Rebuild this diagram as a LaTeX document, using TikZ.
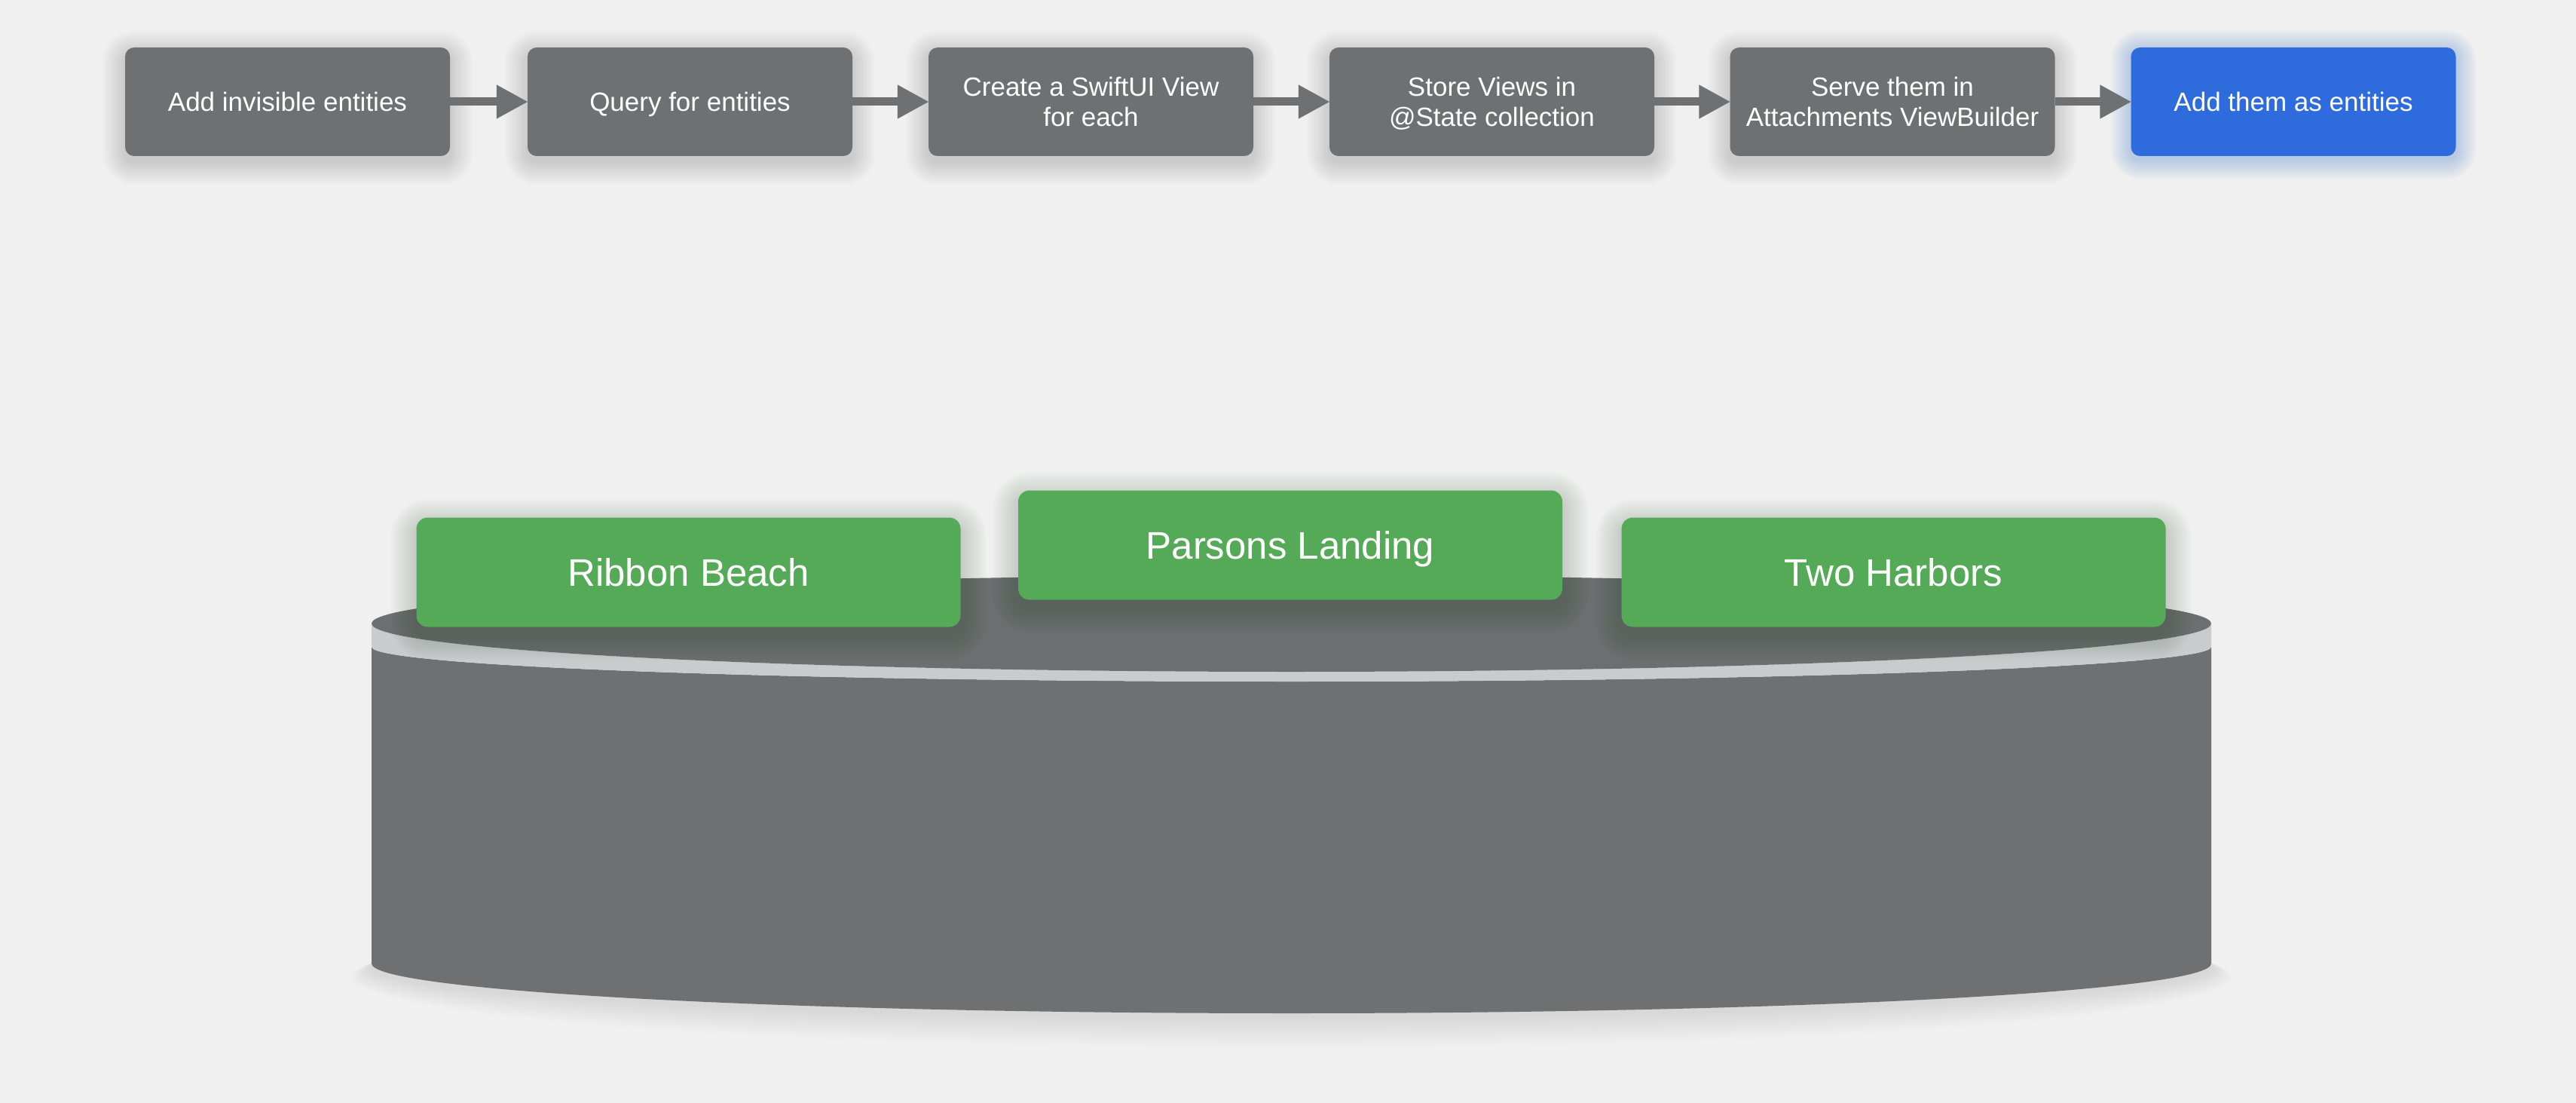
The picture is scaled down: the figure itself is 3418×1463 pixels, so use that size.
\documentclass[tikz,border=0pt]{standalone}
\usepackage{fontspec}
\setmainfont{Liberation Sans}
\usetikzlibrary{arrows.meta}
\definecolor{bgc}{HTML}{EFF0EF}
\definecolor{boxgray}{HTML}{6E7072}
\definecolor{topgray}{HTML}{6C6E70}
\definecolor{bluebox}{HTML}{2E6BDD}
\definecolor{greenbox}{HTML}{55AA58}
\definecolor{bandgray}{HTML}{C9CBCC}
\pgfdeclarelayer{bgl}
\pgfdeclarelayer{back}
\pgfdeclarelayer{shade}
\pgfsetlayers{bgl,back,shade,main}
% #1 node, #2 colour, #3 step, #4 y offset, #5 opacity, #6 corner radius
\newcommand\mysoftshadow[6]{%
  \begin{pgfonlayer}{shade}
  \foreach \k in {1,...,12}{%
    \fill[#2, opacity=#5, rounded corners=#6+\k*#3]
      ([shift={(-\k*#3,-\k*#3+#4)}]#1.north west) rectangle
      ([shift={(\k*#3,\k*#3+#4)}]#1.south east);
  }%
  \end{pgfonlayer}}
\tikzset{
  flowbox/.style={fill=boxgray, rounded corners=12pt, minimum width=431pt,
    minimum height=144pt, inner sep=0pt, text=white, align=center,
    font=\fontsize{35}{40}\selectfont, text depth=0pt},
  oneline/.style={text height=25pt, text depth=0pt},
  bluestep/.style={flowbox, fill=bluebox},
  placebox/.style={fill=greenbox, rounded corners=15pt, minimum width=722pt,
    minimum height=145pt, inner sep=0pt, text=white,
    font=\fontsize{51}{60}\selectfont, text height=37pt, text depth=0pt},
  flowarrow/.style={draw=boxgray, line width=11pt,
    -{Triangle[length=42pt,width=42pt]}, shorten >=-1pt}
}
\begin{document}
\begin{tikzpicture}[x=1pt,y=-1pt]
\begin{pgfonlayer}{bgl}
\fill[bgc] (0,0) rectangle (3418,1463);
\end{pgfonlayer}
\useasboundingbox (0,0) rectangle (3418,1463);

% flow boxes
\node[flowbox,oneline] (b1) at (381.5,135) {Add invisible entities};
\node[flowbox,oneline] (b2) at (915.5,135) {Query for entities};
\node[flowbox] (b3) at (1447.5,135) {Create a SwiftUI View\\for each};
\node[flowbox] (b4) at (1979.5,135) {Store Views in\\@State collection};
\node[flowbox] (b5) at (2511,135) {Serve them in\\Attachments ViewBuilder};
\node[bluestep,oneline] (b6) at (3043,135) {Add them as entities};

\draw[flowarrow] (b1) -- (b2);
\draw[flowarrow] (b2) -- (b3);
\draw[flowarrow] (b3) -- (b4);
\draw[flowarrow] (b4) -- (b5);
\draw[flowarrow] (b5) -- (b6);

\mysoftshadow{b1}{black}{2.5}{8}{0.011}{12pt}
\mysoftshadow{b2}{black}{2.5}{8}{0.011}{12pt}
\mysoftshadow{b3}{black}{2.5}{8}{0.011}{12pt}
\mysoftshadow{b4}{black}{2.5}{8}{0.011}{12pt}
\mysoftshadow{b5}{black}{2.5}{8}{0.011}{12pt}
\mysoftshadow{b6}{bluebox}{2.2}{4}{0.022}{12pt}

% cylinder
\begin{pgfonlayer}{back}
  \foreach \k in {1,...,12}{%
    \fill[black, opacity=0.009] (1713.5,1282+\k*1.2)
      ellipse[x radius=1220.5+\k*2.2, y radius=66+\k*2.2];
  }
  \fill[boxgray] (493,858) -- (493,1278)
    arc[start angle=180, end angle=0, x radius=1220.5, y radius=66]
    -- (2934,858)
    arc[start angle=0, end angle=180, x radius=1220.5, y radius=46] -- cycle;
  \fill[bandgray] (493,827)
    arc[start angle=180, end angle=0, x radius=1220.5, y radius=64]
    -- (2934,858)
    arc[start angle=0, end angle=180, x radius=1220.5, y radius=46] -- cycle;
  \fill[topgray] (1713.5,827) ellipse[x radius=1220.5, y radius=64];
\end{pgfonlayer}

% place boxes
\node[placebox] (rb) at (913.5,759) {Ribbon Beach};
\node[placebox] (pl) at (1712,723) {Parsons Landing};
\node[placebox] (th) at (2512.5,759) {Two Harbors};

\mysoftshadow{rb}{black!60!greenbox}{2.8}{10}{0.014}{15pt}
\mysoftshadow{pl}{black!60!greenbox}{2.8}{10}{0.014}{15pt}
\mysoftshadow{th}{black!60!greenbox}{2.8}{10}{0.014}{15pt}
\end{tikzpicture}
\end{document}
